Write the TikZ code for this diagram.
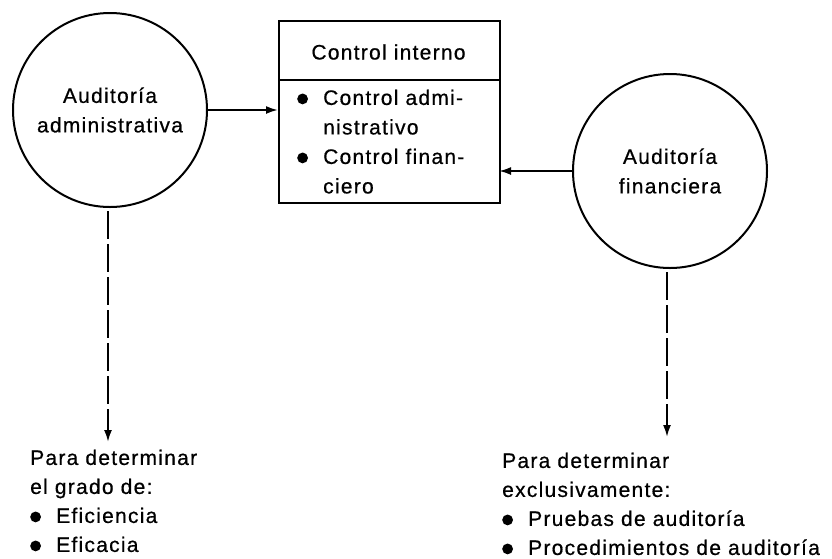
\documentclass[tikz,border=0pt]{standalone}
\usepackage{fontspec}
\setmainfont{Liberation Sans}[LetterSpace=6, FakeBold=0.6]
\usetikzlibrary{arrows.meta}
\newcommand{\bul}{\makebox[26pt][l]{\raisebox{0.6pt}{\tikz\fill (0,0) circle (5.4pt);}}}
\begin{document}
\begin{tikzpicture}[x=1pt,y=-1pt,
  line width=2pt,
  txt/.style={font=\fontsize{21}{29.5}\selectfont, inner sep=0pt},
  circ/.style={draw, circle, minimum size=194pt, inner sep=0pt, txt, align=center},
  arr/.style={-{Latex[length=12pt,width=8pt]}},
  dasharr/.style={arr, dash pattern=on 28pt off 5pt}]
\useasboundingbox (0,0) rectangle (832,558);
% circles
\node[circ] (adm) at (110,110) {Auditoría\\administrativa};
\node[circ] (fin) at (670,171) {Auditoría\\financiera};
% box
\node[draw, minimum width=221pt, minimum height=182pt, inner sep=0pt, anchor=north west] (box) at (278,20) {};
\coordinate (divL) at (278,80);
\coordinate (divR) at (499,80);
\draw (divL) -- (divR);
\node[txt] (title) at (388.5,52) {Control interno};
\node[txt, align=left, anchor=north west] (body) at (297,89.5)
  {\bul Control admi-\\ \hspace*{26pt}nistrativo\\ \bul Control finan-\\ \hspace*{26pt}ciero};
% arrows to box
\coordinate (boxL) at (278,110);
\coordinate (boxR) at (499,171);
\draw[arr] (adm.east) -- (boxL);
\draw[arr] (fin.west) -- (boxR);
% bottom texts
\node[txt, align=left, anchor=north west, font=\fontsize{21}{29}\selectfont] (ltxt) at (30,449.5)
  {Para determinar\\el grado de:\\ \bul Eficiencia\\ \bul Eficacia};
\node[txt, align=left, anchor=north west, font=\fontsize{21}{29}\selectfont] (rtxt) at (502,452.5)
  {Para determinar\\exclusivamente:\\ \bul Pruebas de auditoría\\ \bul Procedimientos de auditoría};
\coordinate (la) at (108,442);
\coordinate (ra) at (667,437);
\draw[dasharr, shorten <=3pt] (adm.south -| la) -- (la);
\draw[dasharr, shorten <=3pt] (fin.south -| ra) -- (ra);
\end{tikzpicture}
\end{document}
